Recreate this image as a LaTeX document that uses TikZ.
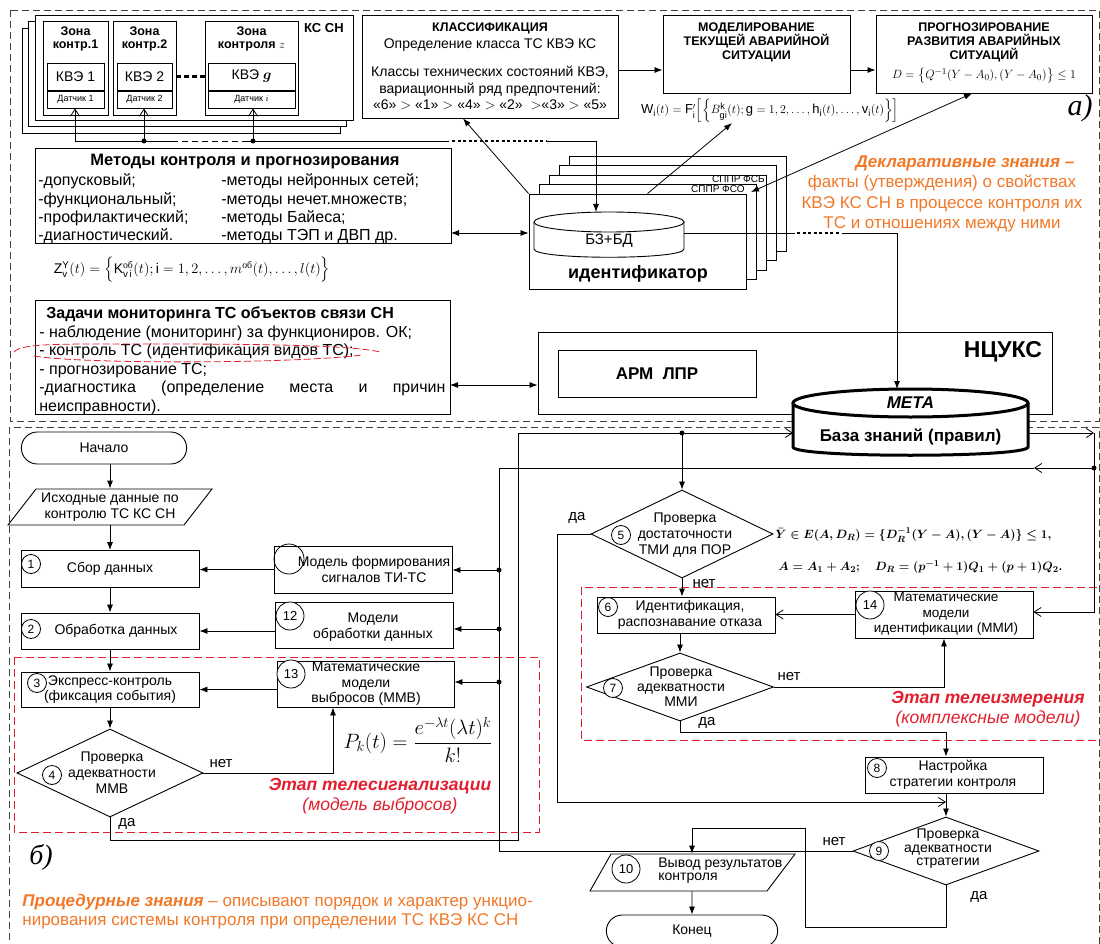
\documentclass[tikz,border=0pt]{standalone}
\usepackage{amsmath,amssymb}
\usepackage{fontspec}
\setmainfont{Liberation Sans}
\newfontfamily\serif{Liberation Serif}
\usetikzlibrary{arrows.meta,shapes.geometric,shapes.misc,positioning}

\definecolor{declorange}{RGB}{240,120,40}
\definecolor{stagered}{RGB}{226,30,45}

\newcommand\fsz[2]{\fontsize{#1}{#2}\selectfont}

\tikzset{
  box/.style={draw, line width=0.9pt, fill=white, align=center, inner sep=1pt},
  txt/.style={align=center, inner sep=0pt},
  arr/.style={-{Latex[length=8pt,width=6pt]}},
  darr/.style={{Latex[length=8pt,width=6pt]}-{Latex[length=8pt,width=6pt]}},
  oarr/.style={-{Straight Barb[length=7pt,width=9pt]}},
  num/.style={draw, circle, fill=white, inner sep=0pt, minimum size=19, font=\fsz{12}{12}},
  bignum/.style={num, minimum size=28, font=\fsz{13}{13}},
  decision/.style={draw, diamond, line width=0.9pt, inner sep=0pt},
  terminal/.style={draw, rounded rectangle, line width=0.9pt, font=\fsz{14}{16}},
  frame/.style={dash pattern=on 7pt off 4pt, line width=0.8pt, black!75},
  stage/.style={draw=stagered, dash pattern=on 8pt off 4pt, line width=1pt},
  yesno/.style={font=\fsz{15}{15}, inner sep=1pt},
}

\begin{document}
\begin{tikzpicture}[x=1pt, y=-1pt, line width=0.8pt, font=\fsz{14}{16}]
\useasboundingbox (0,0) rectangle (1100,944);

% frames of a) and b)
\draw[frame] (10,10) rectangle (1099,421);
\draw[frame] (9,427) rectangle (1099,960);
\draw[stage] (14,657) rectangle (539,832);
\draw[stage] (581,587) rectangle (1100,740);

% ---- part a) ----
% KS SN with control zones
\foreach \d in {13,6.5}
  \draw[line width=0.9pt, fill=white] (35-\d,15+\d) rectangle (353-\d,120+\d);
\node[box, minimum width=318, minimum height=105] (kssn) at (194,67.5) {};
\node[font=\bfseries\fsz{13}{15}] (kssnt) at (324,28) {КС СН};

\node[box, minimum width=65, minimum height=94] (zone1) at (75.5,68) {};
\node[txt, font=\bfseries\fsz{12.5}{13}] (zone1t) at (75.5,39) {Зона\\контр.1};
\node[box, minimum width=57, minimum height=27] (kve1) at (75.5,76.5) {КВЭ 1};
\node[box, minimum width=57, minimum height=17, font=\fsz{9}{10}] (sens1) at (75.5,99.5) {Датчик 1};

\node[box, minimum width=63, minimum height=94] (zone2) at (144.5,68) {};
\node[txt, font=\bfseries\fsz{12.5}{13}] (zone2t) at (144.5,39) {Зона\\контр.2};
\node[box, minimum width=55, minimum height=27] (kve2) at (144.5,76.5) {КВЭ 2};
\node[box, minimum width=55, minimum height=17, font=\fsz{9}{10}] (sens2) at (144.5,99.5) {Датчик 2};

\node[box, minimum width=93, minimum height=94] (zonez) at (251.5,68) {};
\node[txt, font=\bfseries\fsz{12.5}{13}] (zonezt) at (251.5,39) {Зона\\контроля $z$};
\node[box, minimum width=87, minimum height=27] (kveg) at (251.5,76.5) {КВЭ $\boldsymbol{g}$};
\node[box, minimum width=87, minimum height=17, font=\fsz{9}{10}] (sensi) at (251.5,99.5) {Датчик $i$};

\draw[line width=2.5pt, dash pattern=on 5pt off 3pt] (zone2.east |- kve2.center) -- (zonez.west |- kve2.center);

% sensor bus
\coordinate (bus1) at (75,141);
\coordinate (bus2) at (144,141);
\coordinate (bus3) at (253,141);
\coordinate (busend) at (596,141);
\draw (bus1) -- (172,141);
\draw[dash pattern=on 6pt off 4pt] (172,141) -- (244,141);
\draw (244,141) -- (449,141);
\draw[dash pattern=on 3pt off 2.5pt, line width=1.2pt] (452,141) -- (546,141);
\draw (546,141) -- (busend);
\draw[oarr] (bus1) -- (bus1 |- sens1.south);
\draw[oarr] (bus2) -- (bus2 |- sens2.south);
\draw[oarr] (bus3) -- (bus3 |- sensi.south);
\fill (bus2) circle[radius=2.5];
\fill (bus3) circle[radius=2.5];

% classification, modelling, forecasting
\node[box, minimum width=256, minimum height=103, font=\fsz{14}{16.5}] (classif) at (490,66.5)
  {{\bfseries\fsz{12.5}{14}КЛАССИФИКАЦИЯ}\\ Определение класса ТС КВЭ КС\\[12pt]
   Классы технических состояний КВЭ,\\ вариационный ряд предпочтений:\\
   «6» $>$ «1» $>$ «4» $>$ «2» \ $>$«3» $>$ «5»};
\node[box, minimum width=187, minimum height=78] (model) at (756.5,54) {};
\node[txt, font=\bfseries\fsz{12.5}{14}] (modelt) at (756.5,42) {МОДЕЛИРОВАНИЕ\\ТЕКУЩЕЙ АВАРИЙНОЙ\\СИТУАЦИИ};
\node[box, minimum width=216, minimum height=78] (prog) at (984,54) {};
\node[txt, font=\bfseries\fsz{12.5}{14}] (progt) at (984,42) {ПРОГНОЗИРОВАНИЕ\\РАЗВИТИЯ АВАРИЙНЫХ\\СИТУАЦИЙ};
\node[txt, font=\fsz{12.8}{14}] (dform) at (984,76) {$D=\bigl\{Q^{-1}(Y-A_0),(Y-A_0)\bigr\}\le 1$};
\coordinate (c1) at (618,70);
\draw[arr] (c1) -- (c1 -| model.west);
\draw[arr] (c1 -| model.east) -- (c1 -| prog.west);

\node[txt, font=\fsz{13}{15}] (wform) at (770,111)
  {$\mathrm{W}_{\mathrm{i}}(t)=\mathrm{F}'_{\mathrm{i}}\Bigl[\Bigl\{B^{\mathrm{k}}_{\mathrm{gi}}(t);\mathrm{g}=1,2,\dots,\mathrm{h}_{\mathrm{i}}(t),\dots,\mathrm{v}_{\mathrm{i}}(t)\Bigr\}\Bigr]$};
\node[font=\serif\itshape\fsz{30}{32}] (lbla) at (1080,108) {а)};

% methods
\node[box, minimum width=416, minimum height=95] (meth) at (243,195.5) {};
\node[txt, font=\bfseries\fsz{16.5}{18}] (metht) at (245,162) {Методы контроля и прогнозирования};
\node[txt, align=left, anchor=west, font=\fsz{16}{18.3}] (methl) at (38,209)
  {-допусковый;\\-функциональный;\\-профилактический;\\-диагностический.};
\node[txt, align=left, anchor=west, font=\fsz{16}{18.3}] (methr) at (221,209)
  {-методы нейронных сетей;\\-методы нечет.множеств;\\-методы Байеса;\\-методы ТЭП и ДВП др.};
\node[txt, font=\fsz{14}{16}] (zform) at (192,270)
  {$\mathrm{Z}^{\mathrm{Y}}_{\mathrm{v}}(t)=\Bigl\{\mathrm{K}^{\text{\serif об}}_{\mathrm{v\,i}}(t);\mathrm{i}=1,2,\dots,m^{\text{\serif об}}(t),\dots,l(t)\Bigr\}$};

% identifier stack
\foreach \k in {4,3,2,1}
  \draw[line width=0.9pt, fill=white] (529+10*\k,194-9.5*\k) rectangle (746+10*\k,289-9.5*\k);
\node[font=\fsz{10}{10}, anchor=east, inner sep=0pt] (fso) at (745,189) {СППР ФСО};
\node[font=\fsz{10}{10}, anchor=east, inner sep=0pt] (fsb) at (765,179.5) {СППР ФСБ};
\node[box, minimum width=217, minimum height=95] (ident) at (637.5,241.5) {};
\draw[line width=0.9pt, fill=white] (534,222) -- (534,249) .. controls (534,260) and (684,260) .. (684,249) -- (684,222);
\draw[line width=0.9pt, fill=white] (609,222) ellipse[x radius=75, y radius=10];
\node[font=\fsz{15}{17}] (bzbd) at (609,241) {БЗ+БД};
\node[font=\bfseries\fsz{18}{20}] (identt) at (638,274) {идентификатор};
\coordinate (dbtop) at (596,212);
\draw[arr] (busend) -- (dbtop);

\draw[arr] (ident.north west) -- ([xshift=-27pt]classif.south);
\draw[arr] ([xshift=10pt]ident.north) -- ([xshift=-38pt]wform.south);
\draw[darr] ([xshift=6pt,yshift=-3pt]fso.east) -- ([xshift=-12pt]prog.south);
\coordinate (m1) at (451,233);
\draw[darr] (m1) -- (m1 -| ident.west);

\node[txt, text=declorange, font=\fsz{17}{20.5}] (decl) at (942,194)
  {\hspace*{46pt}{\bfseries\itshape Декларативные знания –}\\ факты (утверждения) о свойствах\\
   КВЭ КС СН в процессе контроля их\\ ТС и отношениях между ними};

% monitoring tasks
\node[box, minimum width=415, minimum height=114] (tasks) at (242.5,357) {};
\node[txt, anchor=west, font=\bfseries\fsz{16}{18}] (tasksh) at (46,314) {Задачи мониторинга ТС объектов связи СН};
\node[txt, anchor=west, align=left, font=\fsz{16}{18.5}] (tasksb) at (39,370)
  {- наблюдение (мониторинг) за функциониров. ОК;\\
   - контроль ТС (идентификация видов ТС);\\
   - прогнозирование ТС;\\
   \makebox[406pt][s]{-диагностика (определение места и причин}\\
   неисправности).};
\draw[stagered, dash pattern=on 7pt off 3pt] (14,352) .. controls (22,343) and (60,344) .. (150,344)
  .. controls (260,344) and (350,345) .. (380,352);
\draw[stagered, dash pattern=on 7pt off 3pt] (34,356) .. controls (80,364) and (290,364) .. (362,355);

% NCUKS
\node[box, minimum width=514, minimum height=82] (ncuks) at (795,373) {};
\node[font=\bfseries\fsz{23}{25}] (ncukst) at (1003,352) {НЦУКС};
\node[box, minimum width=198, minimum height=47, font=\bfseries\fsz{17}{19}] (arm) at (657,373.5) {АРМ\ \ ЛПР};
\coordinate (t1) at (450,385);
\draw[darr] (t1) -- (t1 -| ncuks.west);

% META knowledge base
\draw[line width=3pt, fill=white] (793,403) -- (793,447) .. controls (793,458) and (1028,458) .. (1028,447) -- (1028,403);
\draw[line width=3pt, fill=white] (910.5,403) ellipse[x radius=117.5, y radius=14];
\node[font=\bfseries\itshape\fsz{17}{19}] (metat) at (910.5,403) {МЕТА};
\node[font=\bfseries\fsz{17}{19}] (kbase) at (910.5,437) {База знаний (правил)};
\coordinate (metatop) at (897,389);
\coordinate (metaW) at (793,433);
\coordinate (metaE) at (1028,433);

\coordinate (dbE) at (684,233);
\coordinate (kn) at (897,233);
\draw (dbE) -- (795,233);
\draw[dash pattern=on 3pt off 2.5pt, line width=1.2pt] (797,233) -- (840,233);
\draw[arr] (842,233) -- (kn) -- (metatop);

% ---- part b) ----
\node[terminal, minimum width=172, minimum height=32] (start) at (104,448) {Начало};
\draw[line width=0.9pt] (36,489) -- (212,489) -- (184,525) -- (8,525) -- cycle;
\node[txt, minimum height=36, font=\fsz{14}{15.5}] (src) at (110,507) {Исходные данные по\\контролю ТС КС СН};

\node[box, minimum width=178, minimum height=37] (box1) at (110,569) {Сбор данных};
\node[num] (n1) at (31,564) {1};
\node[box, minimum width=178, minimum height=36] (box2) at (110,631) {\hspace*{12pt}Обработка данных};
\node[num] (n2) at (31,629) {2};
\node[box, minimum width=178, minimum height=35, font=\fsz{14}{15}] (box3) at (110,689.5) {Экспресс-контроль\\(фиксация события)};
\node[num] (n3) at (37,683) {3};
\node[decision, minimum width=186, minimum height=88] (d4) at (110,773) {};
\node[txt, font=\fsz{14}{16}] (d4t) at (112,773) {Проверка\\адекватности\\ММВ};
\node[num] (n4) at (52,775) {4};

\draw[arr] (start.south -| src.north) -- (src.north);
\draw[arr] (src) -- (box1);
\draw[arr] (box1) -- (box2);
\draw[arr] (box2) -- (box3);
\draw[arr] (box3) -- (d4);

\node[box, minimum width=178, minimum height=47] (model) at (363,569.5) {};
\node[txt, font=\fsz{14}{15.5}] (modelt) at (374,569.5) {Модель формирования\\сигналов ТИ-ТС};
\node[draw, circle, minimum size=30, inner sep=0pt] (n11) at (289,559) {};
\node[box, minimum width=178, minimum height=46] (box12) at (364,625) {};
\node[txt, font=\fsz{14}{15.5}] (box12t) at (373,627) {Модели\\обработки данных};
\node[bignum] (n12) at (290,616) {12};
\node[box, minimum width=177, minimum height=46] (box13) at (365.5,684) {};
\node[txt, font=\fsz{14}{15.5}] (box13t) at (366,684) {Математические\\модели\\выбросов (ММВ)};
\node[bignum] (n13) at (291,674) {13};

\draw[arr] (model.west) -- (model.west -| box1.east);
\draw[arr] (box12.west |- box2.east) -- (box2.east);
\draw[arr] (box13.west |- box3.east) -- (box3.east);
\coordinate (jl1) at (499,570);
\coordinate (jl2) at (499,629);
\coordinate (jl3) at (499,682);
\draw[arr] (jl1) -- (jl1 -| model.east);
\draw[arr] (jl2) -- (jl2 -| box12.east);
\draw[arr] (jl3) -- (jl3 -| box13.east);
\foreach \j in {jl1,jl2,jl3} \fill (\j) circle[radius=2.5];

\coordinate (n4c) at (333,773);
\draw[arr] (d4.east) -- (n4c) -- (n4c |- box13.south);
\node[yesno] (no4) at (221,764) {нет};
\coordinate (y4) at (518,840);
\draw[oarr] (d4.south) |- (y4) -- (y4 |- metaW) -- (metaW);
\node[yesno] (yes4) at (127,824) {да};

\node[font=\fsz{22}{24}] (pform) at (418,740) {$P_k(t)=\dfrac{e^{-\lambda t}(\lambda t)^k}{k!}$};
\node[txt, text=stagered, font=\fsz{17.5}{20}] (stage1) at (380,796)
  {{\bfseries\itshape Этап телесигнализации}\\{\itshape (модель выбросов)}};
\node[font=\serif\itshape\fsz{28}{30}] (lblb) at (41,857) {б)};
\node[txt, anchor=west, align=left, text=declorange, font=\fsz{17}{19}] (proc) at (22,912)
  {{\bfseries\itshape Процедурные знания} – описывают порядок и характер ункцио-\\
   нирования системы контроля при определении ТС КВЭ КС СН};

% right branch
\coordinate (jt) at (682,433);
\fill (jt) circle[radius=2.5];
\node[decision, minimum width=182, minimum height=88] (d5) at (682,534) {};
\node[txt, font=\fsz{14}{16}] (d5t) at (685,535) {Проверка\\достаточности\\ТМИ для ПОР};
\node[num] (n5) at (621,535) {5};
\draw[arr] (jt) -- (d5.north);
\node[yesno] (yes5) at (577,518) {да};
\node[yesno] (no5) at (704,584) {нет};
\node[txt, anchor=west, font=\fsz{13}{15}] (yform1) at (775,535)
  {$\boldsymbol{\bar{Y}\in E(A,D_R)=\{D_R^{-1}(Y-A),(Y-A)\}\le 1,}$};
\node[txt, anchor=west, font=\fsz{13}{15}] (yform2) at (778,567)
  {$\boldsymbol{A=A_1+A_2;\quad D_R=(p^{-1}+1)Q_1+(p+1)Q_2.}$};

\coordinate (r1) at (1094,433);
\coordinate (r2) at (1094,468);
\coordinate (r3) at (1094,612);
\draw[oarr] (metaE) -- (r1);

\node[box, minimum width=178, minimum height=36] (box6) at (686,615) {};
\node[txt, font=\fsz{14}{15.5}] (box6t) at (690,615) {Идентификация,\\распознавание отказа};
\node[num] (n6) at (608,607) {6};
\node[box, minimum width=178, minimum height=47] (box14) at (944,614.5) {};
\node[txt, font=\fsz{13.5}{15.5}] (box14t) at (946,614) {Математические\\модели\\идентификации (ММИ)};
\node[bignum] (n14) at (870,605) {14};
\draw[arr] (d5.south) -- (d5.south |- box6.north);
\draw[oarr] (box14.west) -- (box14.west -| box6.east);
\draw[oarr] (r1) -- (r3) -- (r3 -| box14.east);

\node[decision, minimum width=187, minimum height=68] (d7) at (680,687) {};
\node[txt, font=\fsz{14}{15}] (d7t) at (681,687) {Проверка\\адекватности\\ММИ};
\node[num] (n7) at (613,688) {7};
\draw[arr] (box6.south -| d7.north) -- (d7.north);
\draw[arr] (d7.east) -| (box14.south);
\node[yesno] (no7) at (789,677) {нет};
\node[txt, text=stagered, font=\fsz{17.5}{20}] (stage2) at (988,709)
  {{\bfseries\itshape Этап телеизмерения}\\{\itshape (комплексные модели)}};

\node[box, minimum width=178, minimum height=36] (box8) at (954,775) {};
\node[txt, font=\fsz{14}{15.5}] (box8t) at (953,775) {Настройка\\стратегии контроля};
\node[num] (n8) at (877,768) {8};
\coordinate (y7) at (946,732);
\draw[arr] (d7.south) |- (y7) -- (y7 |- box8.north);
\node[yesno] (yes7) at (707,723) {да};

\node[decision, minimum width=186, minimum height=68] (d9) at (946,851) {};
\node[txt, font=\fsz{14}{13.5}] (d9t) at (948,849) {Проверка\\адекватности\\стратегии};
\node[num] (n9) at (879,851) {9};
\coordinate (y5) at (557,802);
\draw[oarr] (d5.west) -| (y5) -- (y5 -| d9.north);
\draw[arr] (box8.south -| d9.north) -- (d9.north);
\node[yesno] (no9) at (834,842) {нет};
\node[yesno] (yes9) at (979,897) {да};

\fill (r2) circle[radius=2.5];
\coordinate (lb) at (499,468);
\coordinate (lbc) at (1034,468);
\draw[oarr] (r2) -- (lbc);
\draw (lbc) -- (lb) -- (lb |- d9.west) -- (d9.west);

% output and end
\draw[line width=0.9pt] (611,854) -- (795,854) -- (767,891) -- (590,891) -- cycle;
\node[txt, minimum width=150, minimum height=37] (out) at (692,872.5) {};
\node[txt, anchor=west, align=left, font=\fsz{14}{13}] (outt) at (658,871) {Вывод результатов\\контроля};
\node[bignum] (n10) at (626,869) {10};
\coordinate (y9a) at (805,927);
\coordinate (y9b) at (805,828);
\draw[arr] (d9.south) |- (y9a) -- (y9b) -| (out.north);
\node[terminal, minimum width=178, minimum height=32] (finish) at (692,931) {Конец};
\draw[arr] (out) -- (finish);
\end{tikzpicture}
\end{document}
